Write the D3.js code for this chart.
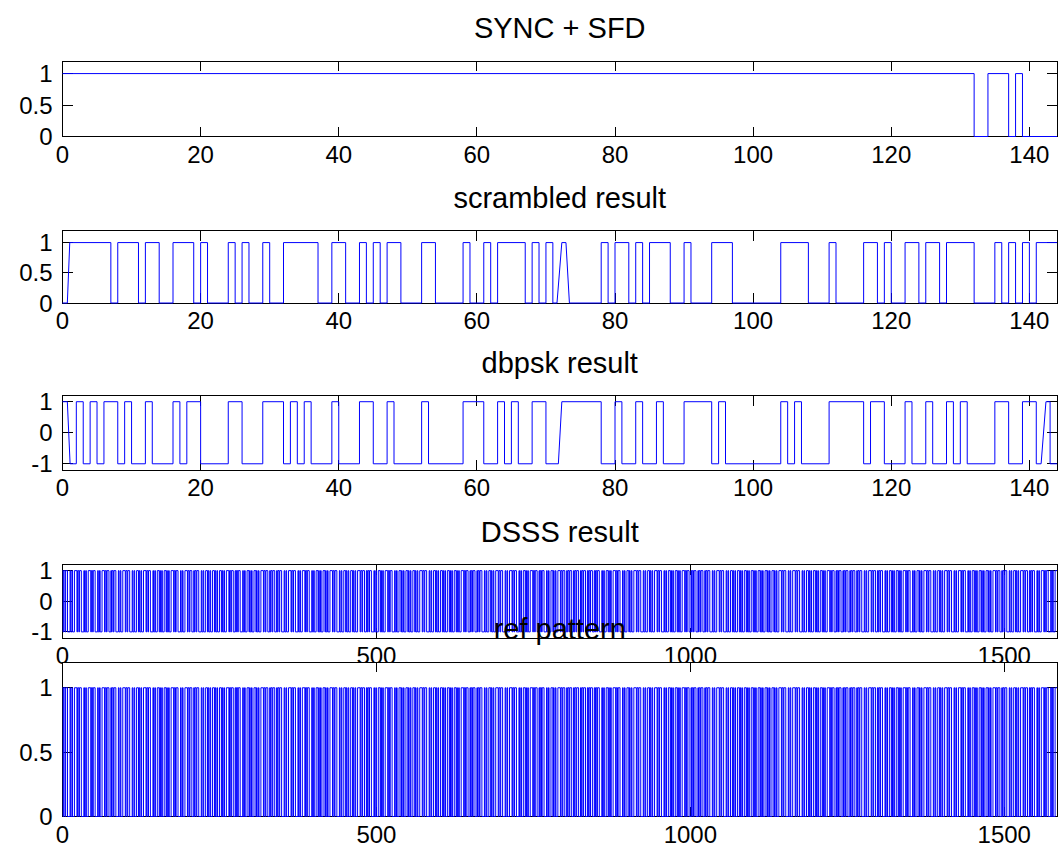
<!DOCTYPE html>
<html>
<head>
<meta charset="utf-8">
<title>SYNC + SFD / scrambled / dbpsk / DSSS / ref pattern</title>
<style>
    body { margin: 0; background: #fff; }
    svg text { font-family: "Liberation Sans", Arial, Helvetica, sans-serif; fill: #000; }
    .frame { fill: #fff; stroke: none; }
    .box { fill: none; stroke: #000; stroke-width: 1; shape-rendering: crispEdges; }
    .tick { stroke: #000; stroke-width: 1; shape-rendering: crispEdges; }
    .sig { fill: none; stroke: #0000ff; stroke-width: 1; }
</style>
</head>
<body>
<svg width="1060" height="854"></svg>
<script src="https://d3js.org/d3.v7.min.js"></script>
<script>

// ---- data ----
// SYNC + SFD as [value, run length]
var syncSfdRuns = [[1, 132], [0, 2], [1, 3], [0, 1], [1, 1], [0, 5]];

var scrambled = [
    0,1,1,1,1,1,1,0,1,1,1,0,1,1,0,0,1,1,1,0,1,0,0,0,
    1,0,1,0,0,1,0,0,1,1,1,1,1,0,0,1,1,0,0,1,0,1,0,1,
    1,0,0,0,1,1,0,0,0,0,1,0,0,1,0,1,1,1,1,0,1,0,1,0,
    1,0,0,0,0,0,1,0,1,1,0,1,0,1,1,1,0,0,1,0,0,0,1,1,
    1,0,0,0,0,0,0,0,1,1,1,1,0,0,0,1,0,0,0,0,1,1,0,1,
    0,0,1,1,0,1,1,0,1,1,1,1,0,0,0,1,0,1,0,1,0,1,1,1
];
// transitions that are drawn slanted: [bit index, x start, x end]
var scrambledRamps = [[1, 0.7, 1.05], [72, 71.6, 72.3], [73, 72.9, 73.4]];

var dbpsk = [
     1,-1, 1,-1, 1,-1, 1, 1,-1, 1,-1,-1, 1,-1,-1,-1, 1,-1, 1, 1,-1,-1,-1,-1,
     1, 1,-1,-1,-1, 1, 1, 1,-1, 1,-1, 1,-1,-1,-1, 1,-1,-1,-1, 1, 1,-1,-1, 1,
    -1,-1,-1,-1, 1,-1,-1,-1,-1,-1, 1, 1, 1,-1,-1, 1,-1, 1,-1,-1, 1, 1,-1,-1,
     1, 1, 1, 1, 1, 1,-1,-1, 1,-1,-1, 1,-1,-1, 1,-1,-1,-1, 1, 1, 1, 1,-1, 1,
    -1,-1,-1,-1,-1,-1,-1,-1, 1,-1, 1,-1,-1,-1,-1, 1, 1, 1, 1, 1,-1, 1, 1,-1,
    -1,-1, 1,-1,-1, 1,-1,-1, 1,-1, 1,-1,-1,-1,-1, 1, 1,-1,-1, 1, 1,-1, 1,-1
];
var dbpskRamps = [[1, 0.7, 1.1], [72, 71.8, 72.3], [142, 141.7, 142.4]];

// 11-chip Barker code used for the spreading
var barker = [1,-1,1,1,-1,1,1,1,-1,-1,-1];

var titles = ["SYNC + SFD", "scrambled result", "dbpsk result", "DSSS result", "ref pattern"];
var bitTicks = [0, 20, 40, 60, 80, 100, 120, 140];
var chipTicks = [0, 500, 1000, 1500];
var unitTicks = [0, 0.5, 1];
var bipolarTicks = [-1, 0, 1];

// ---- derived series ----
var syncSfd = [];
syncSfdRuns.forEach(function(r) { for (var i = 0; i < r[1]; i++) syncSfd.push(r[0]); });

var dsss = [];
dbpsk.forEach(function(d) { barker.forEach(function(c) { dsss.push(d * c); }); });
var refPattern = dsss.map(function(v) { return (v + 1) / 2; });

// ---- layout ----
var svg = d3.select("svg"),
    left = 62.5, right = 1057, tickLen = 10;

var panels = [
    {title: titles[0], values: syncSfd,    ramps: [],             xMax: 144,  yDom: [0, 1.2],    xTicks: bitTicks,  yTicks: unitTicks,    top: 61,    bottom: 136.5},
    {title: titles[1], values: scrambled,  ramps: scrambledRamps, xMax: 144,  yDom: [0, 1.2],    xTicks: bitTicks,  yTicks: unitTicks,    top: 230.5, bottom: 303},
    {title: titles[2], values: dbpsk,      ramps: dbpskRamps,     xMax: 144,  yDom: [-1.2, 1.2], xTicks: bitTicks,  yTicks: bipolarTicks, top: 395.5, bottom: 470},
    {title: titles[3], values: dsss,       ramps: [],             xMax: 1584, yDom: [-1.2, 1.2], xTicks: chipTicks, yTicks: bipolarTicks, top: 564.5, bottom: 638},
    {title: titles[4], values: refPattern, ramps: [],             xMax: 1584, yDom: [0, 1.2],    xTicks: chipTicks, yTicks: unitTicks,    top: 662,   bottom: 816.5}
];

function stepPoints(vals, ramps) {
    var rampAt = {};
    ramps.forEach(function(r) { rampAt[r[0]] = r; });
    var pts = [[0, vals[0]]];
    for (var k = 1; k < vals.length; k++) {
        if (vals[k] === vals[k - 1]) continue;
        var r = rampAt[k];
        if (r) pts.push([r[1], vals[k - 1]], [r[2], vals[k]]);
        else pts.push([k, vals[k - 1]], [k, vals[k]]);
    }
    pts.push([vals.length, vals[vals.length - 1]]);
    return pts;
}

var fmt = function(v) { return String(v); };

panels.forEach(function(p, i) {
    var x = d3.scaleLinear().domain([0, p.xMax]).range([left, right]),
        y = d3.scaleLinear().domain(p.yDom).range([p.bottom, p.top]);

    var g = svg.append("g").attr("class", "panel");

    // white axes background (covers the DSSS tick labels under the last panel)
    g.append("rect").attr("class", "frame")
        .attr("x", left).attr("y", p.top)
        .attr("width", right - left).attr("height", p.bottom - p.top);

    g.append("rect").attr("class", "box")
        .attr("x", left).attr("y", p.top)
        .attr("width", right - left).attr("height", p.bottom - p.top);

    // inward ticks on all four sides
    p.xTicks.forEach(function(t) {
        g.append("line").attr("class", "tick")
            .attr("x1", x(t)).attr("x2", x(t)).attr("y1", p.bottom).attr("y2", p.bottom - tickLen);
        g.append("line").attr("class", "tick")
            .attr("x1", x(t)).attr("x2", x(t)).attr("y1", p.top).attr("y2", p.top + tickLen);
    });
    p.yTicks.forEach(function(t) {
        g.append("line").attr("class", "tick")
            .attr("x1", left).attr("x2", left + tickLen).attr("y1", y(t)).attr("y2", y(t));
        g.append("line").attr("class", "tick")
            .attr("x1", right).attr("x2", right - tickLen).attr("y1", y(t)).attr("y2", y(t));
    });

    var line = d3.line()
        .x(function(d) { return x(d[0]); })
        .y(function(d) { return y(d[1]); });

    g.append("path").attr("class", "sig")
        .attr("d", line(stepPoints(p.values, p.ramps)));

    g.selectAll("text.xl").data(p.xTicks).enter().append("text")
        .attr("class", "xl")
        .attr("x", function(d) { return x(d); })
        .attr("y", p.bottom + 26)
        .attr("text-anchor", "middle")
        .style("font-size", "24px")
        .text(fmt);

    g.selectAll("text.yl").data(p.yTicks).enter().append("text")
        .attr("class", "yl")
        .attr("x", left - 10)
        .attr("y", function(d) { return y(d) + 8.5; })
        .attr("text-anchor", "end")
        .style("font-size", "24px")
        .text(fmt);

    g.append("text")
        .attr("x", (left + right) / 2)
        .attr("y", p.top - 23)
        .attr("text-anchor", "middle")
        .style("font-size", "29px")
        .text(p.title);
});

</script>
</body>
</html>
